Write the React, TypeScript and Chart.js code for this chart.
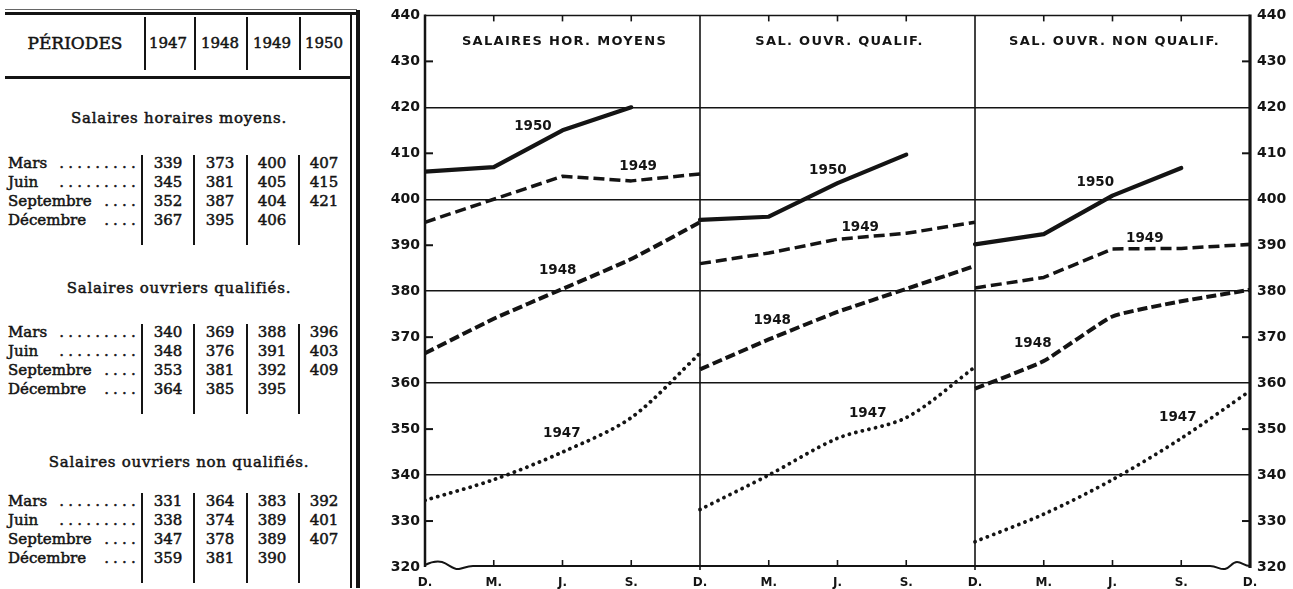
import React, { useEffect, useRef } from 'react';
import { Chart, registerables } from 'chart.js';

Chart.register(...registerables);

// ---------- Chart data ----------
const xLabels = ['D.', 'M.', 'J.', 'S.', 'D.', 'M.', 'J.', 'S.', 'D.', 'M.', 'J.', 'S.', 'D.'];
const yearNames = ['1947', '1948', '1949', '1950'];
const panelTitles = ['SALAIRES HOR. MOYENS', 'SAL. OUVR. QUALIF.', 'SAL. OUVR. NON QUALIF.'];

// Salaires horaires moyens (D. M. J. S. D.)
const hor1947 = [334.5, 339, 345, 352.5, 366.5];
const hor1948 = [366.5, 374, 380.5, 387, 395];
const hor1949 = [395, 400, 405, 404, 405.5];
const hor1950 = [406, 407, 415, 420];
// Salaires ouvriers qualifiés
const qual1947 = [332.5, 340, 348, 352.5, 363.5];
const qual1948 = [363, 369.5, 375.5, 380.5, 385.5];
const qual1949 = [386, 388.3, 391.3, 392.6, 395];
const qual1950 = [395.5, 396.2, 403.5, 409.7];
// Salaires ouvriers non qualifiés
const nonq1947 = [325.5, 331.5, 339, 348, 358.3];
const nonq1948 = [358.8, 364.8, 374.5, 377.8, 380.3];
const nonq1949 = [380.7, 383, 389.2, 389.3, 390.2];
const nonq1950 = [390.2, 392.4, 400.8, 406.8];

// Year label anchors [x index, value] per panel
const label1947 = [[1.99, 349.1], [6.44, 353.4], [10.95, 352.6]];
const label1948 = [[1.93, 384.5], [5.05, 373.6], [8.84, 368.6]];
const label1949 = [[3.1, 407.2], [6.33, 393.8], [10.47, 391.4]];
const label1950 = [[1.57, 415.9], [5.86, 406.2], [9.75, 403.6]];

const yMin = 320;
const yMax = 440;

// ---------- Table data ----------
const tableYears = ['1947', '1948', '1949', '1950'];
const sectionTitles = ['Salaires horaires moyens.', 'Salaires ouvriers qualifiés.', 'Salaires ouvriers non qualifiés.'];
const rowWords = ['Mars', 'Juin', 'Septembre', 'Décembre'];
const rowDots = ['.........', '.........', '....', '....'];
const tableHor = [['339', '373', '400', '407'], ['345', '381', '405', '415'], ['352', '387', '404', '421'], ['367', '395', '406', '']];
const tableQual = [['340', '369', '388', '396'], ['348', '376', '391', '403'], ['353', '381', '392', '409'], ['364', '385', '395', '']];
const tableNonQual = [['331', '364', '383', '392'], ['338', '374', '389', '401'], ['347', '378', '389', '407'], ['359', '381', '390', '']];

const INK = '#141414';

const panels = [
  [hor1947, hor1948, hor1949, hor1950],
  [qual1947, qual1948, qual1949, qual1950],
  [nonq1947, nonq1948, nonq1949, nonq1950],
];

const yearStyles = [
  { borderWidth: 3.8, borderDash: [0.1, 6.6], borderCapStyle: 'round', tension: 0.3 },
  { borderWidth: 4, borderDash: [10, 4], borderCapStyle: 'butt', tension: 0.15 },
  { borderWidth: 3.5, borderDash: [11, 5], borderCapStyle: 'butt', tension: 0 },
  { borderWidth: 4.2, borderDash: [], borderCapStyle: 'round', tension: 0 },
];

const yearLabels = [label1947, label1948, label1949, label1950];

const framePlugin = {
  id: 'frame',
  beforeDatasetsDraw(chart: any) {
    const { ctx, chartArea } = chart;
    const { left, right, top, bottom } = chartArea;
    const x = chart.scales.x;
    const y = chart.scales.y;
    const line = (x1: number, y1: number, x2: number, y2: number, w: number) => {
      ctx.beginPath();
      ctx.lineWidth = w;
      ctx.moveTo(x1, y1);
      ctx.lineTo(x2, y2);
      ctx.stroke();
    };
    ctx.save();
    ctx.strokeStyle = INK;
    line(left, top, right, top, 1.5);
    [4, 8].forEach((v) => {
      const px = x.getPixelForValue(v);
      line(px, top, px, bottom + 3, 1.6);
    });
    line(left, top - 1, left, bottom, 2.5);
    line(right, top - 1, right, bottom + 1, 3.2);
    for (let v = yMin + 10; v < yMax; v += 20) {
      const py = y.getPixelForValue(v);
      line(left, py, left + 8, py, 2);
      line(right - 8, py, right, py, 2);
    }
    for (let i = 0; i < xLabels.length; i++) {
      if (i % 4 === 0) continue;
      const px = x.getPixelForValue(i);
      line(px, bottom, px, bottom - 7, 1.6);
      line(px, top, px, top + 6, 1.6);
    }
    // bottom line with axis-break waves
    ctx.beginPath();
    ctx.lineWidth = 2;
    ctx.moveTo(left, bottom - 2);
    ctx.bezierCurveTo(left + 6, bottom - 5, left + 12, bottom - 6, left + 17, bottom - 5);
    ctx.bezierCurveTo(left + 24, bottom - 3, left + 28, bottom + 3, left + 34, bottom + 2);
    ctx.bezierCurveTo(left + 39, bottom + 1, left + 42, bottom - 1, left + 48, bottom - 1);
    ctx.lineTo(right - 40, bottom - 1);
    ctx.bezierCurveTo(right - 33, bottom - 1, right - 30, bottom + 3, right - 25, bottom + 2);
    ctx.bezierCurveTo(right - 20, bottom + 1, right - 18, bottom - 5, right - 13, bottom - 5);
    ctx.bezierCurveTo(right - 8, bottom - 5, right - 6, bottom - 1, right, bottom - 1);
    ctx.stroke();
    ctx.restore();
  },
  afterDatasetsDraw(chart: any) {
    const { ctx, chartArea } = chart;
    const x = chart.scales.x;
    const y = chart.scales.y;
    ctx.save();
    ctx.fillStyle = INK;
    ctx.textAlign = 'center';
    ctx.textBaseline = 'middle';
    ctx.font = 'bold 13px "DejaVu Sans"';
    (ctx as any).letterSpacing = '1.3px';
    panelTitles.forEach((t, p) => {
      const cx = (x.getPixelForValue(p * 4) + x.getPixelForValue(p * 4 + 4)) / 2;
      ctx.fillText(t, cx + 2, chartArea.top + 26);
    });
    (ctx as any).letterSpacing = '0px';
    ctx.font = 'bold 13.5px "DejaVu Sans"';
    yearLabels.forEach((list, yi) => {
      list.forEach(([vx, vy]) => {
        ctx.fillText(yearNames[yi], x.getPixelForValue(vx), y.getPixelForValue(vy));
      });
    });
    ctx.restore();
  },
};

function ChartPanel() {
  const ref = useRef<HTMLCanvasElement | null>(null);
  useEffect(() => {
    if (!ref.current) return;
    const datasets: any[] = [];
    panels.forEach((series, p) => {
      series.forEach((vals, yi) => {
        const st = yearStyles[yi];
        datasets.push({
          label: `${yearNames[yi]}-${p}`,
          data: vals.map((v, i) => ({ x: p * 4 + i, y: v })),
          borderColor: INK,
          backgroundColor: INK,
          borderWidth: st.borderWidth,
          borderDash: st.borderDash,
          borderCapStyle: st.borderCapStyle,
          borderJoinStyle: 'round',
          tension: st.tension,
          pointRadius: 0,
          fill: false,
        });
      });
    });
    const tickFont = { family: '"DejaVu Sans"', size: 14, weight: 'bold' as const };
    const chart = new Chart(ref.current, {
      type: 'line',
      data: { datasets },
      options: {
        animation: false,
        responsive: false,
        events: [],
        layout: { padding: { top: 14, left: 0, right: 0, bottom: 0 } },
        plugins: { legend: { display: false }, tooltip: { enabled: false } },
        scales: {
          x: {
            type: 'linear',
            min: 0,
            max: 12,
            offset: false,
            grid: { display: false, drawTicks: false },
            border: { display: false },
            afterFit: (s: any) => { s.height = 22; },
            ticks: {
              stepSize: 1,
              autoSkip: false,
              maxRotation: 0,
              padding: 9,
              color: INK,
              font: { family: '"DejaVu Sans"', size: 12, weight: 'bold' },
              callback: (v: any) => xLabels[Number(v)] ?? '',
            },
          },
          y: {
            type: 'linear',
            position: 'left',
            min: yMin,
            max: yMax,
            afterFit: (s: any) => { s.width = 60; },
            border: { display: false },
            grid: {
              drawTicks: false,
              lineWidth: 1.5,
              color: (c: any) => {
                const v = c.tick ? c.tick.value : 0;
                return v % 20 === 0 && v > yMin && v < yMax ? INK : 'rgba(0,0,0,0)';
              },
            },
            ticks: { stepSize: 10, padding: 5, color: INK, font: tickFont },
          },
          y2: {
            type: 'linear',
            position: 'right',
            min: yMin,
            max: yMax,
            afterFit: (s: any) => { s.width = 43; },
            border: { display: false },
            grid: { display: false, drawTicks: false },
            ticks: { stepSize: 10, padding: 7, color: INK, font: tickFont },
          },
        },
      },
      plugins: [framePlugin],
    } as any);
    return () => chart.destroy();
  }, []);
  return (
    <canvas
      ref={ref}
      width={928}
      height={589}
      style={{ position: 'absolute', left: 365, top: 0, width: 928, height: 589 }}
    />
  );
}

const serif = '"DejaVu Serif", serif';
const STROKE = '0.5px #141414';

function Txt(props: { x: number; y: number; w: number; align?: any; size?: number; children: any; style?: any }) {
  const { x, y, w, align = 'center', size = 15, children, style } = props;
  const lh = 20;
  return (
    <div
      style={{
        position: 'absolute',
        left: x,
        top: y - lh / 2,
        width: w,
        height: lh,
        lineHeight: `${lh}px`,
        textAlign: align,
        fontFamily: serif,
        fontSize: size,
        color: INK,
        whiteSpace: 'nowrap',
        WebkitTextStroke: STROKE,
        ...style,
      }}
    >
      {children}
    </div>
  );
}

function Rule(props: { x: number; y: number; w: number; h: number; c?: string }) {
  return (
    <div style={{ position: 'absolute', left: props.x, top: props.y, width: props.w, height: props.h, background: props.c || INK }} />
  );
}

function DataTable() {
  const colCenters = [168, 220, 272, 324];
  const headerSeps = [145, 195, 247, 300];
  const bodySeps = [142, 194, 247, 299];
  const sections = [tableHor, tableQual, tableNonQual];
  const sectionTitleY = [118, 288, 462];
  const sectionRowY = [163, 332, 501];
  const rowStep = 19;
  const els: any[] = [];
  // frame
  els.push(<Rule key="top1" x={5} y={9} w={352} h={1} c="#666" />);
  els.push(<Rule key="top2" x={5} y={12} w={354} h={3} />);
  els.push(<Rule key="hb" x={5} y={76} w={346} h={3} />);
  els.push(<Rule key="r1" x={350} y={14} w={1.5} h={574} />);
  els.push(<Rule key="r2" x={356} y={10} w={4} h={578} />);
  headerSeps.forEach((sx, i) => els.push(<Rule key={`hs${i}`} x={sx - 1} y={17} w={2} h={53} />));
  els.push(<Txt key="per" x={15} y={43} w={120} size={17}>PÉRIODES</Txt>);
  tableYears.forEach((yr, i) => els.push(<Txt key={`yr${i}`} x={colCenters[i] - 25} y={43} w={50} size={15}>{yr}</Txt>));
  sections.forEach((rows, si) => {
    els.push(
      <Txt key={`st${si}`} x={10} y={sectionTitleY[si]} w={338} style={{ letterSpacing: '0.75px' }}>
        {sectionTitles[si]}
      </Txt>
    );
    const y0 = sectionRowY[si];
    bodySeps.forEach((sx, i) =>
      els.push(<Rule key={`bs${si}-${i}`} x={sx - 1} y={y0 - 8} w={2.2} h={rowStep * 3 + 33} />)
    );
    rows.forEach((vals, ri) => {
      const ry = y0 + ri * rowStep;
      els.push(
        <div
          key={`rl${si}-${ri}`}
          style={{
            position: 'absolute', left: 8, top: ry - 10, width: 132, height: 20, lineHeight: '20px',
            display: 'flex', justifyContent: 'space-between', fontFamily: serif, fontSize: 15, color: INK,
            whiteSpace: 'nowrap', WebkitTextStroke: STROKE,
          }}
        >
          <span>{rowWords[ri]}</span>
          <span style={{ letterSpacing: '4.2px' }}>{rowDots[ri]}</span>
        </div>
      );
      vals.forEach((v, ci) => {
        if (!v) return;
        els.push(<Txt key={`v${si}-${ri}-${ci}`} x={colCenters[ci] - 25} y={ry} w={50}>{v}</Txt>);
      });
    });
  });
  return <>{els}</>;
}

export default function App() {
  return (
    <div style={{ position: 'absolute', left: 0, top: 0, width: 1293, height: 589, background: '#fff', overflow: 'hidden' }}>
      <DataTable />
      <ChartPanel />
    </div>
  );
}
